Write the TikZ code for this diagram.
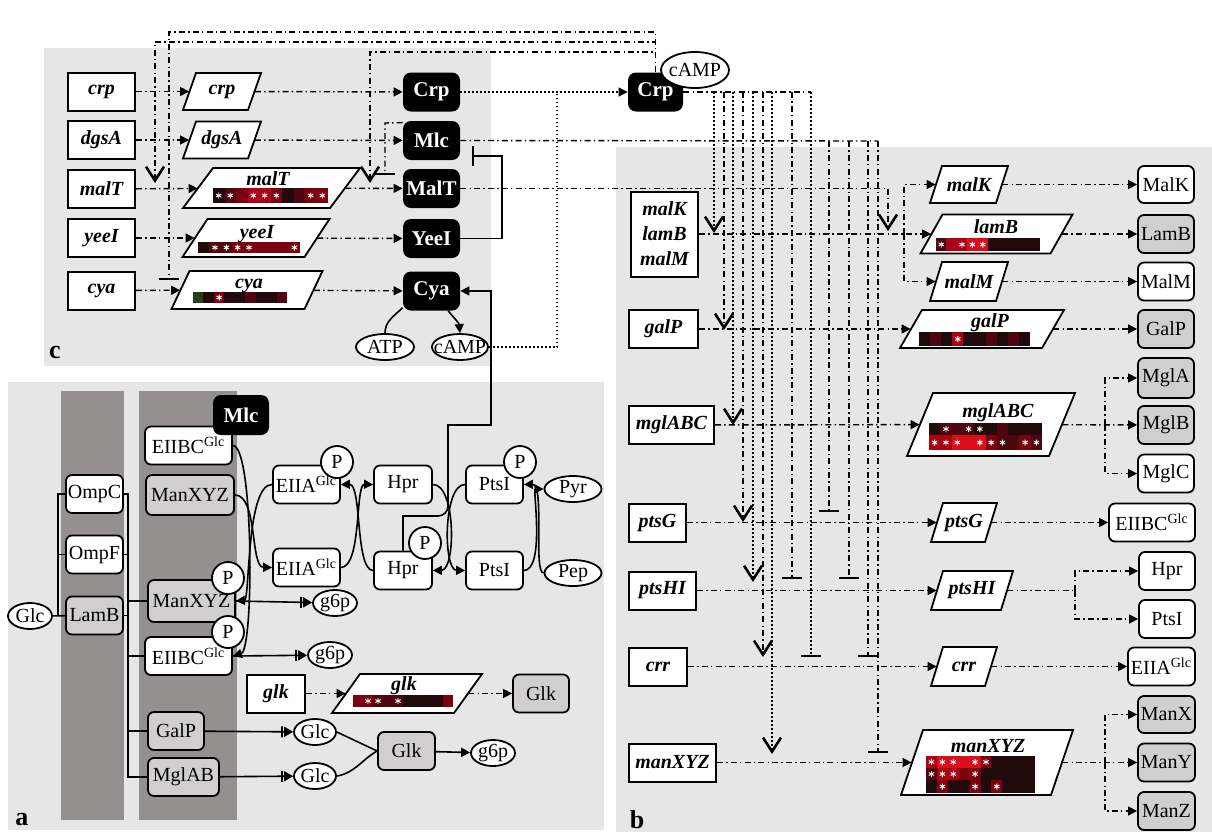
\documentclass[tikz,border=0pt]{standalone}
\usepackage{fontspec}
\setmainfont{Liberation Serif}
\usetikzlibrary{arrows.meta,shapes.geometric}
\definecolor{panelgray}{RGB}{230,230,230}
\definecolor{stripegray}{RGB}{148,144,144}
\definecolor{protgray}{RGB}{208,206,206}
\definecolor{hk}{RGB}{32,10,12}
\definecolor{h1}{RGB}{78,6,16}
\definecolor{h2}{RGB}{125,0,16}
\definecolor{h3}{RGB}{172,0,20}
\definecolor{h4}{RGB}{220,12,26}
\definecolor{hg}{RGB}{38,62,28}
\newcommand\zw[1]{\makebox[0pt]{#1}}
% heatmap row: x0, y0, cell width, cell height, colours, star cells
\newcommand\hmrow[6]{%
  \foreach \hc [count=\hi from 0] in {#5} {\fill[\hc] ({#1+\hi*#3},#2) rectangle ++(#3,#4);}
  \foreach \hs in {#6} {\draw[white, line width=0.45pt] ({#1+(\hs-0.5)*#3},{#2+0.5*#4}) +(0,-3) -- +(0,3) +(-2.6,-1.5) -- +(2.6,1.5) +(-2.6,1.5) -- +(2.6,-1.5);}
}
% parallelogram: name, cx, cy, edge width, height, slant, text
\newcommand\pgram[7]{%
  \draw[pgl] ({#2-#4/2+#6/2},{#3-#5/2}) -- ({#2+#4/2+#6/2},{#3-#5/2}) -- ({#2+#4/2-#6/2},{#3+#5/2}) -- ({#2-#4/2-#6/2},{#3+#5/2}) -- cycle;
  \node[pg, minimum width={#4*0.5pt}, minimum height={#5*0.5pt}] (#1) at (#2,#3) {#7};
}
\begin{document}
\begin{tikzpicture}[x=0.5pt,y=-0.5pt,
  every node/.style={font=\fontsize{10}{12}\selectfont},
  gene/.style={draw, line width=1pt, fill=white, font=\fontsize{10}{12}\selectfont\bfseries\itshape, inner sep=0pt, minimum height=19pt},
  prot/.style={draw, line width=0.9pt, rounded corners=3pt, fill=white, inner sep=0pt, minimum height=19pt},
  protg/.style={prot, fill=protgray},
  blk/.style={fill=black, rounded corners=4pt, text=white, font=\fontsize{10.5}{12}\selectfont\bfseries, minimum height=19.5pt, minimum width=28.5pt, inner sep=0pt},
  met/.style={ellipse, draw, line width=0.9pt, fill=white, inner sep=0pt, minimum height=13pt},
  pc/.style={circle, draw, line width=0.9pt, fill=white, minimum size=16pt, inner sep=0pt},
  pg/.style={inner sep=0pt, font=\fontsize{10}{12}\selectfont\bfseries\itshape},
  pgl/.style={draw, line width=0.9pt, fill=white},
  gt/.style={font=\fontsize{10}{12}\selectfont\bfseries\itshape, inner sep=0pt, anchor=base},
  dd/.style={line width=0.7pt, dash pattern=on 3pt off 1.6pt on 0.7pt off 1.6pt},
  dt/.style={line width=0.8pt, dash pattern=on 0.8pt off 1.2pt},
  tri/.style={-{Triangle[length=4.5pt,width=4.5pt]}},
  conn/.style={dd, tri},
  vee/.style={-{Straight Barb[length=7pt,width=9pt,line width=1.3pt]}},
  tee/.style={-{Bar[width=10pt,line width=1pt]}},
  sol/.style={line width=0.8pt},
  bartri/.style={-{Bar[width=5.5pt,line width=0.9pt,sep=0.6pt]Triangle[length=4.5pt,width=5pt]}},
  lab/.style={font=\fontsize{13}{13}\selectfont\bfseries, inner sep=0pt}
]
\useasboundingbox (0,0) rectangle (1212,832);
\fill[white] (0,0) rectangle (1212,832);
% panels
\fill[panelgray] (44,48) rectangle (491,366);
\fill[panelgray] (8,382) rectangle (604,830);
\fill[panelgray] (616,147) rectangle (1212,832);
\fill[stripegray] (61,391) rectangle (124,820);
\fill[stripegray] (139,391) rectangle (237,820);

% ---------------- panel c ----------------
\node[gene, minimum width=33.5pt] (crpG) at (101.5,91.5) {crp};
\node[gene, minimum width=33.5pt] (dgsAG) at (101.5,140) {dgsA};
\node[gene, minimum width=33.5pt] (malTG) at (101.5,189) {malT};
\node[gene, minimum width=33.5pt] (yeeIG) at (101.5,238) {yeeI};
\node[gene, minimum width=33.5pt] (cyaG) at (101.5,290.5) {cya};

\pgram{pcrp}{222}{91.5}{65}{37}{13}{crp}
\pgram{pdgsA}{222}{140}{65}{37}{13}{dgsA}
\pgram{pmalT}{271.5}{188}{147}{40}{30}{}
\node[gt] (tmalT) at (268,185) {malT};
\hmrow{213}{188}{11.5}{15}{hk,h1,h2,h3,h3,h2,hk,h1,h2,h2}{1,2,4,5,6,9,10}
\pgram{pyeeI}{256}{238}{122}{38}{25}{}
\node[gt] (tyeeI) at (257,238) {yeeI};
\hmrow{198}{242}{11.33}{11}{hk,h1,h1,h2,h2,h2,h2,h2,h2}{2,3,4,5,9}
\pgram{pcya}{247}{290}{133}{38}{18}{}
\node[gt] (tcya) at (249,288) {cya};
\hmrow{193}{292}{10.44}{11}{hg,hk,h2,hk,hk,h1,hk,hk,h1}{3}

\node[blk] (CrpC) at (431.5,92) {Crp};
\node[blk] (MlcC) at (431.5,140.5) {Mlc};
\node[blk] (MalTC) at (431.5,188.5) {MalT};
\node[blk] (YeeIC) at (431.5,238.5) {YeeI};
\node[blk] (CyaC) at (431.5,291) {Cya};
\node[met, minimum width=29pt] (ATP) at (385,347) {\zw{ATP}};
\node[met, minimum width=28pt] (cAMPc) at (460,347) {\zw{cAMP}};

\node[blk, minimum width=27.5pt] (CrpB) at (655.5,92) {Crp};
\node[met, minimum width=34pt, minimum height=18pt] (cAMPb) at (695,70) {\zw{cAMP}};

% ---------------- panel a ----------------
\node[prot, minimum width=43.5pt] (EIIBCt) at (188.5,445.5) {EIIBC\textsuperscript{Glc}};
\node[blk, minimum height=20pt, minimum width=28pt] (MlcA) at (241,415) {Mlc};
\node[protg, minimum width=44pt, minimum height=20pt] (ManT) at (190,495) {ManXYZ};
\node[prot, minimum width=28.5pt] (OmpC) at (94.5,494) {OmpC};
\node[prot, minimum width=28.5pt] (OmpF) at (94.5,554.5) {OmpF};
\node[protg, minimum width=28.5pt] (LamBa) at (94.5,615.5) {LamB};
\node[met, minimum width=22pt] (GlcA) at (30,616) {\zw{Glc}};
\node[protg, minimum width=43.5pt, minimum height=21pt] (ManP) at (191.5,601) {ManXYZ};
\node[prot, minimum width=43.5pt] (EIIBCP) at (188.5,656) {EIIBC\textsuperscript{Glc}};
\node[protg, minimum width=28pt] (GalPa) at (176,731) {GalP};
\node[protg, minimum width=35.5pt] (MglAB) at (183.5,777) {MglAB};
\node[prot, minimum width=33.5pt] (EIIAt) at (306.5,484.5) {EIIA\textsuperscript{Glc}};
\node[prot, minimum width=33.5pt] (EIIAb) at (306.5,567.5) {EIIA\textsuperscript{Glc}};
\node[prot, minimum width=29pt] (Hprt) at (403,484.5) {Hpr};
\node[prot, minimum width=29pt] (Hprb) at (403,570.5) {Hpr};
\node[prot, minimum width=28.5pt] (PtsIt) at (494.5,484.5) {PtsI};
\node[prot, minimum width=28.5pt] (PtsIb) at (494.5,570.5) {PtsI};
\node[met, minimum width=28.5pt] (Pyr) at (573,489) {\zw{Pyr}};
\node[met, minimum width=28.5pt] (Pep) at (573,573) {\zw{Pep}};
\node[met, minimum width=22pt] (g6pA) at (335,603) {\zw{g6p}};
\node[met, minimum width=22pt] (g6pB) at (330,655) {\zw{g6p}};
\node[gene, minimum width=29pt] (glkG) at (276,693.5) {glk};
\pgram{pglk}{407}{693.5}{122}{39}{28}{}
\node[gt] (tglk) at (404,690) {glk};
\hmrow{353}{695}{10}{12}{h2,h2,h1,h1,h1,hk,hk,hk,hk,h2}{2,3,5}
\node[protg, minimum width=28pt] (GlkA) at (541,693.5) {Glk};
\node[met, minimum width=21pt] (Glc1) at (315,732) {\zw{Glc}};
\node[met, minimum width=21pt] (Glc2) at (315,776) {\zw{Glc}};
\node[protg, minimum width=28.5pt] (Glk2) at (406.5,751) {Glk};
\node[met, minimum width=22pt] (g6pC) at (493,753) {\zw{g6p}};

% ---------------- panel b ----------------
\node[gene, minimum width=33.5pt, minimum height=42.5pt, align=center, font=\fontsize{10}{12.5}\selectfont\bfseries\itshape] (mmmG) at (664.5,234) {malK\\lamB\\malM};
\node[gene, minimum width=34.5pt] (galPG) at (663.5,329) {galP};
\node[gene, minimum width=42.5pt] (mglG) at (671.5,425) {mglABC};
\node[gene, minimum width=28.5pt] (ptsGG) at (657.5,522.5) {ptsG};
\node[gene, minimum width=33.5pt] (ptsHIG) at (662.5,590.5) {ptsHI};
\node[gene, minimum width=29pt] (crrG) at (658,666.5) {crr};
\node[gene, minimum width=43.5pt] (manG) at (672.5,762.5) {manXYZ};

\pgram{pmalK}{969}{184.5}{66}{37}{12}{malK}
\pgram{plamB}{996.5}{234}{130}{39}{22}{}
\node[gt] (tlamB) at (996,233) {lamB};
\hmrow{936}{238}{10.4}{13}{h1,h3,h3,h4,h4,hk,hk,hk,hk,hk}{1,3,4,5}
\pgram{pmalM}{969}{281.5}{66}{39}{12}{malM}
\pgram{pgalP}{982}{329}{142}{38}{22}{}
\node[gt] (tgalP) at (990,327) {galP};
\hmrow{919}{332}{11.1}{14}{hk,h1,hk,h3,hk,hk,h1,hk,h1,hk}{4}
\pgram{pmgl}{991}{424.5}{142}{63}{26}{}
\node[gt] (tmgl) at (998,417) {mglABC};
\hmrow{929}{423}{11.3}{12}{hk,h1,h1,h1,hk,hk,h1,hk,hk,hk}{2,4,5}
\hmrow{929}{435}{11.3}{15}{h3,h3,h4,h4,h4,h2,h1,h1,h2,h1}{1,2,3,5,6,7,9,10}
\pgram{pptsG}{964}{522.5}{54}{39}{12}{ptsG}
\pgram{pptsHI}{972}{590.5}{70}{39}{12}{ptsHI}
\pgram{pcrr}{964}{666.5}{54}{39}{12}{crr}
\pgram{pman}{987}{762.5}{150}{65}{22}{}
\node[gt] (tman) at (988,752) {manXYZ};
\hmrow{926}{756}{10.9}{12}{h3,h4,h4,h4,h4,h2,hk,hk,hk,hk}{1,2,3,5,6}
\hmrow{926}{768}{10.9}{12}{h1,h3,h3,h2,h2,hk,hk,hk,hk,hk}{1,2,3,5}
\hmrow{926}{780}{10.9}{13}{hk,h2,hk,hk,h2,hk,h2,hk,hk,hk}{2,5,7}

\node[prot, minimum width=28pt, minimum height=18.5pt] (MalK) at (1166,184.5) {MalK};
\node[protg, minimum width=28pt] (LamBb) at (1166,234) {LamB};
\node[prot, minimum width=28pt] (MalM) at (1166,281.5) {MalM};
\node[protg, minimum width=28pt] (GalPb) at (1166,329) {GalP};
\node[protg, minimum width=28pt, minimum height=20pt] (MglA) at (1166,378) {MglA};
\node[protg, minimum width=28pt] (MglB) at (1166,425) {MglB};
\node[prot, minimum width=28pt] (MglC) at (1166,473.5) {MglC};
\node[prot, minimum width=43pt] (EIIBCb) at (1152,522.5) {EIIBC\textsuperscript{Glc}};
\node[prot, minimum width=28pt] (Hprb2) at (1167,571) {Hpr};
\node[prot, minimum width=28pt] (PtsIb2) at (1167,619) {PtsI};
\node[prot, minimum width=33.5pt] (EIIAb2) at (1161.5,666.5) {EIIA\textsuperscript{Glc}};
\node[protg, minimum width=28.5pt, minimum height=18.5pt] (ManX) at (1166.5,714.5) {ManX};
\node[protg, minimum width=28.5pt] (ManY) at (1166.5,762.5) {ManY};
\node[protg, minimum width=28.5pt] (ManZ) at (1166.5,811) {ManZ};

% ---------------- connectors: panel c ----------------
\draw[conn] (crpG) -- (pcrp);
\draw[conn] (pcrp) -- (CrpC);
\draw[conn] (dgsAG) -- (pdgsA);
\draw[conn] (pdgsA) -- (MlcC);
\draw[conn] (malTG) -- (pmalT);
\draw[conn] (pmalT) -- (MalTC);
\draw[conn] (yeeIG) -- (pyeeI);
\draw[conn] (pyeeI) -- (YeeIC);
\draw[conn] (cyaG) -- (pcya);
\draw[conn] (pcya) -- (CyaC);

\coordinate (t32) at (169,32);
\coordinate (t42) at (155,42);
\coordinate (t52) at (370,52);
\coordinate (cyaTee) at (169,280);
\coordinate (malTV1) at (155,183);
\coordinate (malTV2) at (370,183);
\draw[dd,tee] (CrpB.north) |- (t32) -- (cyaTee);
\draw[dd,vee] (CrpB.north) |- (t42) -- (malTV1);
\draw[dd,vee] (CrpB.north) |- (t52) -- (malTV2);

\coordinate (mlcA) at (385,123);
\coordinate (malTTee) at (385,175);
\draw[dd,tee] ([yshift=-1pt]MlcC.north west) -- (mlcA) -- (malTTee);

\coordinate (yb) at (502,156);
\coordinate (mlcTee) at (472,156);
\draw[sol,tee] (YeeIC.east) -| (yb) -- (mlcTee);

\draw[sol,tri] (Hprb.north) -- (403,516) -- (438,516) to[out=0,in=-90] (448,506) -- (448,425) -- (491,425) -- (491,291) -- (CyaC.east);
\draw[sol] (ATP.north) to[out=90,in=-135] (CyaC.-150);
\draw[sol,tri] (CyaC.-50) to[out=-50,in=95] (cAMPc.north);

\coordinate (cj) at (557,92);
\draw[dt] (cAMPc.east) -| (cj);
\draw[dt,tri] (CrpC) -- (CrpB);

% Mlc fan
\coordinate (mlcE) at (878,141);
\coordinate (manTee) at (878,753);
\draw[dd] (MlcC.east) -- (mlcE);
\draw[dd,tee] (mlcE) -- (manTee);
\foreach \xx/\yy [count=\k] in {829/512,849/579,868/657} {
  \coordinate (ms\k) at (\xx,141);
  \coordinate (me\k) at (\xx,\yy);
  \draw[dd,tee] (ms\k) -- (me\k);
}
% MalT -> lamB operon
\coordinate (malTV3) at (888,231);
\draw[dd,vee] (MalTC.east) -| (malTV3);
% Crp fan
\coordinate (crpE) at (811,92);
\coordinate (crrTee2) at (811,657);
\draw[dd] (CrpB.east) -- (crpE);
\draw[dt,tee] (crpE) -- (crrTee2);
\foreach \xx/\yy/\st [count=\k] in {714/233/dt,724/330/dd,733/425/dt,743/522/dd,753/582/dt,763/657/dd,772/754/dt} {
  \coordinate (cs\k) at (\xx,92);
  \coordinate (ce\k) at (\xx,\yy);
  \draw[\st,vee] (cs\k) -- (ce\k);
}
\coordinate (cs8) at (792,92);
\coordinate (ce8) at (792,579);
\draw[dd,tee] (cs8) -- (ce8);

% ---------------- connectors: panel b ----------------
\draw[conn] (mmmG) -- (plamB);
\coordinate (brK) at (904,234);
\draw[conn] (brK) |- (pmalK);
\draw[conn] (brK) |- (pmalM);
\draw[conn] (pmalK) -- (MalK);
\draw[conn] (plamB) -- (LamBb);
\draw[conn] (pmalM) -- (MalM);
\draw[conn] (galPG) -- (pgalP);
\draw[conn] (pgalP) -- (GalPb);
\draw[conn] (mglG) -- (pmgl);
\draw[conn] (pmgl) -- (MglB);
\coordinate (brM) at (1105,425);
\draw[conn] (brM) |- (MglA);
\draw[conn] (brM) |- (MglC);
\draw[conn] (ptsGG) -- (pptsG);
\draw[conn] (pptsG) -- (EIIBCb);
\draw[conn] (ptsHIG) -- (pptsHI);
\coordinate (brH) at (1075,590.5);
\draw[dd] (pptsHI) -- (brH);
\draw[conn] (brH) |- (Hprb2);
\draw[conn] (brH) |- (PtsIb2);
\draw[conn] (crrG) -- (pcrr);
\draw[conn] (pcrr) -- (EIIAb2);
\draw[conn] (manG) -- (pman);
\draw[conn] (pman) -- (ManY);
\coordinate (brX) at (1105,762.5);
\draw[conn] (brX) |- (ManX);
\draw[conn] (brX) |- (ManZ);

% ---------------- connectors: panel a ----------------
\draw[conn] (glkG) -- (pglk);
\draw[conn] (pglk) -- (GlkA);
\coordinate (bl) at (58,615.5);
\draw[sol] (GlcA) -- (LamBa);
\draw[sol] (OmpC.west) -| (bl);
\draw[sol] (OmpF.west) -- (OmpF.west -| bl);
\coordinate (br2) at (128,777);
\draw[sol] (OmpC.east) -| (br2) -- (MglAB.west);
\foreach \n in {OmpF,LamBa} \draw[sol] (\n.east) -- (\n.east -| br2);
\foreach \n in {ManP,EIIBCP,GalPa} \draw[sol] (\n.west) -- (\n.west -| br2);

\draw[sol,bartri] (GalPa) -- (Glc1);
\draw[sol,bartri] (MglAB) -- (Glc2);
\draw[sol,bartri] (ManP.east) -- (g6pA);
\draw[sol,bartri] (EIIBCP.east) -- (g6pB);
\draw[sol] (Glc1.east) -- (Glk2.west);
\draw[sol] (Glc2.east) to[out=10,in=-150] (Glk2.west);
\draw[sol,tri] (Glk2) -- (g6pC);

\draw[sol,tri] (EIIBCt.east) .. controls (254,446) and (254,650) .. (EIIBCP.east);
\draw[sol,tri] (ManT.east) .. controls (258,495) and (250,567) .. (EIIAb.west);
\draw[sol,tri] (EIIAt.west) .. controls (246,484) and (250,600) .. (ManP.east);
\draw[sol,tri] (EIIAb.east) .. controls (362,567) and (355,484) .. (Hprt.west);
\draw[sol,tri] (Hprb.west) .. controls (355,570) and (362,484) .. (EIIAt.east);
\draw[sol,tri] (Hprt.east) .. controls (456,484) and (456,570) .. (Hprb.east);
\draw[sol,tri] (PtsIt.west) .. controls (443,484) and (443,570) .. (PtsIb.west);
\draw[sol,tri] (PtsIb.east) .. controls (545,570) and (533,489) .. (Pyr.west);
\draw[sol,tri] (Pep.west) .. controls (533,573) and (545,484) .. (PtsIt.east);

% phosphate circles
\node[pc] (PManP) at (228,578) {P};
\node[pc] (PEIIBC) at (228,632) {P};
\node[pc] (PEIIA) at (337,462) {P};
\node[pc] (PHpr) at (425,543) {P};
\node[pc] (PPtsI) at (520,462) {P};

% panel labels
\node[lab] (la) at (22,820) {a};
\node[lab] (lb) at (637,820) {b};
\node[lab] (lc) at (55,352) {c};
\end{tikzpicture}
\end{document}
